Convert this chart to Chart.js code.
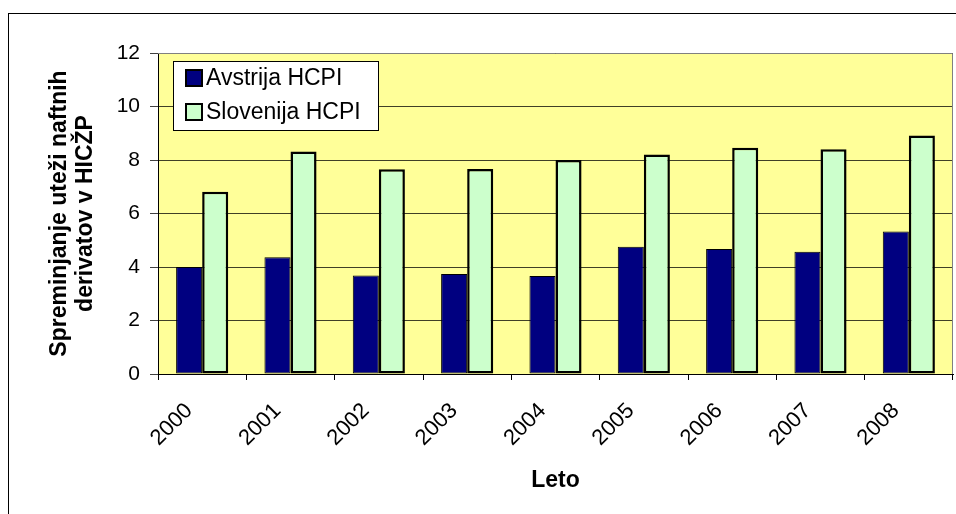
<!DOCTYPE html>
<html>
<head>
<meta charset="utf-8">
<script src="https://cdn.jsdelivr.net/npm/chart.js@4/dist/chart.umd.min.js"></script>
<style>
  html, body { margin: 0; padding: 0; background: #fff; overflow: hidden; }
  #wrap { position: relative; width: 956px; height: 514px; }
  #frame { position: absolute; left: 8px; top: 13px; width: 1000px; height: 1000px; border: 1px solid #000; }
  canvas { position: absolute; left: 0; top: 0; }
</style>
</head>
<body>
<div id="wrap">
  <div id="frame"></div>
  <canvas id="myChart" width="956" height="514"></canvas>
</div>
<script>
const years = ['2000', '2001', '2002', '2003', '2004', '2005', '2006', '2007', '2008'];
const avstrija = [4.0, 4.36, 3.68, 3.74, 3.66, 4.76, 4.67, 4.57, 5.33];
const slovenija = [6.81, 8.32, 7.65, 7.66, 8.0, 8.21, 8.46, 8.4, 8.92];
const seriesNames = ['Avstrija HCPI', 'Slovenija HCPI'];
const yTitle = ['Spreminjanje uteži naftnih', 'derivatov v HICŽP'];
const xTitle = 'Leto';

const FONT = 'Arial, "Liberation Sans", sans-serif';

// yellow plot area + gray frame
const plotBg = {
  id: 'plotBg',
  beforeDraw: function (chart) {
    const a = chart.chartArea;
    const ctx = chart.ctx;
    ctx.save();
    ctx.fillStyle = '#FFFF99';
    ctx.fillRect(a.left, a.top, a.right - a.left, a.bottom - a.top);
    ctx.restore();
  },
  afterDraw: function (chart) {
    const a = chart.chartArea;
    const ctx = chart.ctx;
    ctx.save();
    ctx.strokeStyle = '#808080';
    ctx.lineWidth = 1;
    ctx.beginPath();
    ctx.moveTo(a.left, a.top + 0.5);
    ctx.lineTo(a.right - 0.5, a.top + 0.5);
    ctx.lineTo(a.right - 0.5, a.bottom);
    ctx.stroke();
    ctx.restore();
  }
};

// boxed legend inside the plot, like the spreadsheet one
const boxLegend = {
  id: 'boxLegend',
  afterDraw: function (chart) {
    const a = chart.chartArea;
    const ctx = chart.ctx;
    const x = a.left + 15, y = a.top + 8, w = 205, h = 69;
    ctx.save();
    ctx.fillStyle = '#fff';
    ctx.fillRect(x, y, w, h);
    ctx.strokeStyle = '#000';
    ctx.lineWidth = 1;
    ctx.strokeRect(x + 0.5, y + 0.5, w, h);
    ctx.font = '23px ' + FONT;
    ctx.textBaseline = 'middle';
    chart.data.datasets.forEach(function (ds, i) {
      const cy = y + 17 + i * 34;
      ctx.fillStyle = ds.backgroundColor;
      ctx.fillRect(x + 13, cy - 8, 16, 16);
      ctx.strokeStyle = '#000';
      ctx.lineWidth = 2;
      ctx.strokeRect(x + 13, cy - 8, 16, 16);
      ctx.fillStyle = '#000';
      ctx.fillText(ds.label, x + 33, cy + 1);
    });
    ctx.restore();
  }
};

const context = document.getElementById('myChart');
new Chart(context, {
  type: 'bar',
  data: {
    labels: years,
    datasets: [{
      label: seriesNames[0],
      data: avstrija,
      backgroundColor: '#000080',
      borderColor: '#000000',
      borderWidth: 1,
      borderSkipped: false
    }, {
      label: seriesNames[1],
      data: slovenija,
      backgroundColor: '#CCFFCC',
      borderColor: '#000000',
      borderWidth: 2.5,
      borderSkipped: false
    }]
  },
  options: {
    responsive: false,
    animation: false,
    events: [],
    layout: { autoPadding: false, padding: { top: 53, right: 3, left: 0, bottom: 0 } },
    datasets: { bar: { categoryPercentage: 0.59, barPercentage: 1.0 } },
    plugins: { legend: { display: false }, tooltip: { enabled: false } },
    scales: {
      x: {
        offset: true,
        afterFit: function (scale) { scale.height = 140; },
        grid: { drawOnChartArea: false, offset: true, tickLength: 6, color: '#000' },
        border: { color: '#000', width: 1 },
        ticks: {
          autoSkip: false, minRotation: 45, maxRotation: 45, padding: 18, labelOffset: -13,
          color: '#000', font: { family: FONT, size: 22 }
        },
        title: {
          display: true, text: xTitle, color: '#000',
          font: { family: FONT, size: 23, weight: 'bold' },
          padding: { top: 0, bottom: 20 }
        }
      },
      y: {
        min: 0, max: 12,
        afterFit: function (scale) { scale.width = 158; },
        grid: { color: 'rgba(0,0,0,0.75)', tickLength: 8 },
        border: { color: '#000', width: 1 },
        ticks: {
          stepSize: 2, padding: 10, color: '#000',
          font: { family: FONT, size: 21 }
        },
        title: {
          display: true, text: yTitle, color: '#000',
          font: { family: FONT, size: 23, weight: 'bold', lineHeight: 1.13 },
          padding: { top: 47, bottom: 0 }
        }
      }
    }
  },
  plugins: [plotBg, boxLegend]
});
</script>
</body>
</html>
